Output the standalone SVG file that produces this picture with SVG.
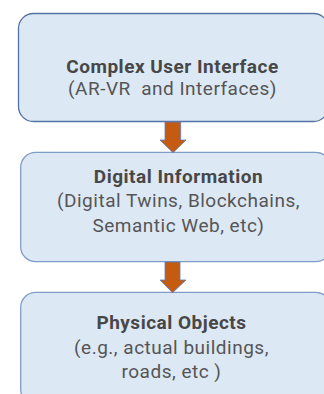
<svg xmlns="http://www.w3.org/2000/svg" width="324" height="394" viewBox="0 0 324 394">
<style>
.box{fill:#dde8f5;stroke:#7f9cc9;stroke-width:1.3}
.box1{stroke:#5472a6}
.t{font-family:Roboto,"Liberation Sans",sans-serif;text-anchor:middle;fill:#555555;font-size:19px;letter-spacing:0.5px}
.b{font-weight:bold;fill:#474747}
.arrow{fill:#c55a11;stroke:#5b7fbf;stroke-width:0.8}
</style>
<rect width="324" height="394" fill="#ffffff"/>
<g id="node-ui">
<rect class="box box1" x="18.5" y="13.5" width="310" height="108" rx="15"/>
<text class="t b" x="172.5" y="72.5">Complex User Interface</text>
<text class="t" x="172.5" y="94.5" xml:space="preserve">(AR-VR  and Interfaces)</text>
</g>
<g id="node-digital">
<rect class="box" x="20.7" y="152.3" width="310" height="109.4" rx="15"/>
<text class="t b" x="178.5" y="183">Digital Information</text>
<text class="t" x="178.5" y="207.3">(Digital Twins, Blockchains,</text>
<text class="t" x="178.5" y="231.7">Semantic Web, etc)</text>
</g>
<g id="node-physical">
<rect class="box" x="20.7" y="292.3" width="310" height="112" rx="15"/>
<text class="t b" x="171.5" y="329">Physical Objects</text>
<text class="t" x="171.5" y="354">(e.g., actual buildings,</text>
<text class="t" x="171.5" y="378.3">roads, etc )</text>
</g>
<g id="connectors">
<path class="arrow" d="M165,122 H180.7 V140 H186 L173,152.7 L160,140 H165 Z"/>
<path class="arrow" d="M165,262 H180 V280 H186 L172.5,292.7 L160,280 H165 Z"/>
</g>
</svg>
